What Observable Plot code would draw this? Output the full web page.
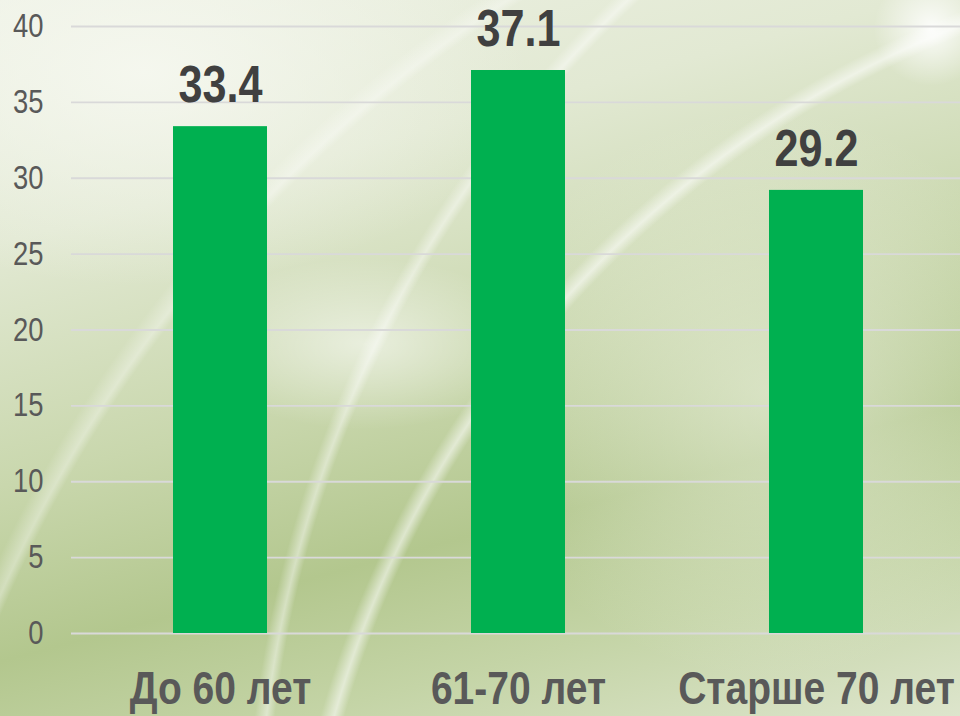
<!DOCTYPE html>
<html>
<head>
<meta charset="utf-8">
<script src="https://cdn.jsdelivr.net/npm/d3@7"></script>
<script src="https://cdn.jsdelivr.net/npm/@observablehq/plot@0.6"></script>
<style>
  html, body { margin: 0; padding: 0; }
  #bg {
    position: relative;
    width: 960px; height: 716px; overflow: hidden;
    background:
      radial-gradient(circle at 140% 140%, transparent 62%, rgba(255,255,255,0.55) 62.6%, transparent 63.4%),
      radial-gradient(circle at 150% 120%, transparent 70%, rgba(255,255,255,0.45) 70.5%, transparent 71.2%),
      radial-gradient(circle at 130% 160%, transparent 80%, rgba(255,255,255,0.35) 80.5%, transparent 81.5%),
      radial-gradient(ellipse 18% 12% at 38% 48%, rgba(255,255,255,0.55), transparent 100%),
      radial-gradient(ellipse 6% 8% at 97% 4%, rgba(255,255,255,0.9), transparent 100%),
      radial-gradient(ellipse 30% 40% at 80% 55%, rgba(240,244,230,0.55), transparent 100%),
      radial-gradient(ellipse 40% 30% at 15% 10%, rgba(246,248,240,0.9), transparent 100%),
      linear-gradient(165deg, #edf1e4 0%, #e2e9d3 25%, #c9d7ad 50%, #b3c78e 68%, #c4d4a6 82%, #dde5cc 100%);
  }
</style>
</head>
<body>
<div id="bg"></div>
<script>
const categories = ["До 60 лет", "61-70 лет", "Старше 70 лет"];
const values = [33.4, 37.1, 29.2];
const valueLabels = ["33.4", "37.1", "29.2"];
const yTicks = [0, 5, 10, 15, 20, 25, 30, 35, 40];

const data = categories.map((c, i) => ({cat: c, value: values[i], label: valueLabels[i]}));

const chart = Plot.plot({
  width: 960,
  height: 716,
  marginLeft: 71,
  marginRight: 0,
  marginTop: 26,
  marginBottom: 83,
  style: {background: "transparent", fontFamily: "'Liberation Sans', Arial, sans-serif", overflow: "visible"},
  x: {domain: categories, range: [71, 965], paddingInner: 0.685, paddingOuter: 0.3425},
  y: {domain: [0, 40], range: [633, 26]},
  marks: [
    Plot.gridY(yTicks, {stroke: "#d9d9d9", strokeOpacity: 1, strokeWidth: 1.8}),
    Plot.barY(data, {x: "cat", y: "value", fill: "#00b050"}),
    Plot.text(data, {
      x: "cat", y: "value", text: "label",
      fontFamily: "'Liberation Sans', Arial, sans-serif",
      fontWeight: "bold", fontSize: 52, fill: "#404040",
      lineAnchor: "middle", dy: -41,
      className: "narrow-text"
    }),
    Plot.axisY(yTicks, {
      tickSize: 0, tickPadding: 28, label: null,
      fontFamily: "'Liberation Sans', Arial, sans-serif",
      fontSize: 33, fill: "#595959",
      className: "narrow-text"
    }),
    Plot.axisX({
      tickSize: 0, tickPadding: 37, label: null,
      fontFamily: "'Liberation Sans', Arial, sans-serif",
      fontWeight: "bold", fontSize: 47, fill: "#595959",
      className: "narrow-text"
    })
  ]
});
chart.style.position = "absolute";
chart.style.left = "0";
chart.style.top = "0";
document.getElementById("bg").appendChild(chart);

// emulate a narrow typeface by horizontally condensing each text around its anchor
chart.querySelectorAll(".narrow-text text").forEach(t => {
  const xa = t.getAttribute("x");
  const x = xa && !isNaN(+xa) ? +xa : 0;
  const tr = t.getAttribute("transform") || "";
  if (xa && !isNaN(+xa)) t.removeAttribute("x");
  t.setAttribute("transform", `${tr} translate(${x},0) scale(0.83,1)`);
});
</script>
</body>
</html>
